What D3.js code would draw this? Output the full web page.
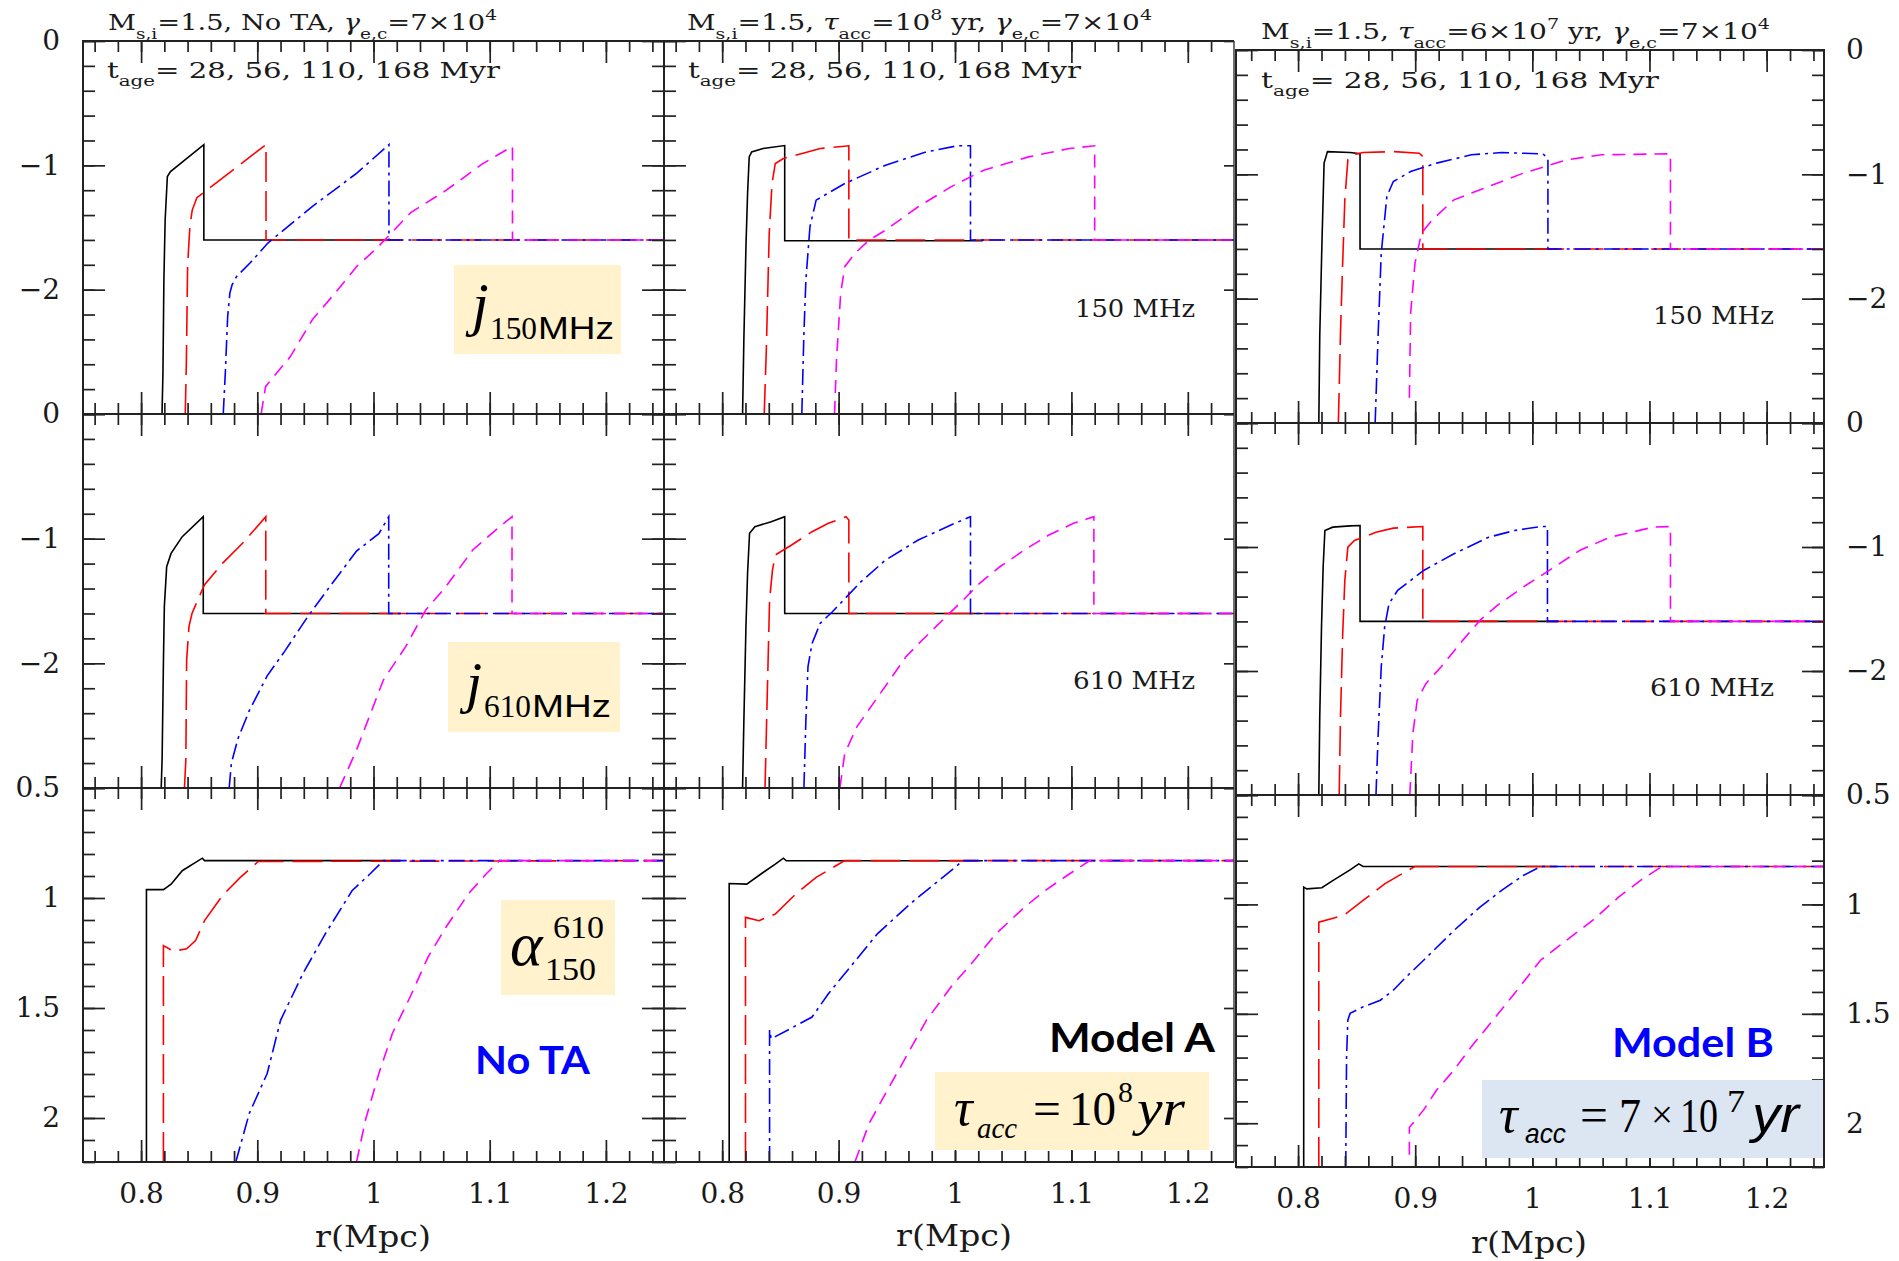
<!DOCTYPE html>
<html>
<head>
<meta charset="utf-8">
<script src="https://cdn.jsdelivr.net/npm/d3@7"></script>
<style>
  body { margin: 0; background: #fff; }
  text { white-space: pre; }
</style>
</head>
<body>
<svg id="chart" width="1899" height="1261"></svg>
<script>
// values: [r (Mpc), value]; curves are t_age = 28, 56, 110, 168 Myr
const rTicks = [0.8, 0.9, 1, 1.1, 1.2];
const jTicks = [0, -1, -2];
const alphaTicks = [0.5, 1, 1.5, 2];
const ages = [28, 56, 110, 168];

// No TA
const noTA_j150 = [
  [[0.818,-3],[0.8188,-2.67],[0.8196,-1.93],[0.8207,-1.44],[0.8226,-1.09],[0.8253,-1.05],[0.854,-0.833],[0.854,-1.6],[1.023,-1.6]],
  [[0.838,-3],[0.839,-2.56],[0.84,-1.81],[0.842,-1.49],[0.844,-1.36],[0.848,-1.26],[0.9075,-0.833],[0.9075,-1.6],[1.25,-1.6]],
  [[0.8707,-3],[0.8726,-2.645],[0.8745,-2.216],[0.8764,-2.028],[0.8783,-1.961],[0.8822,-1.894],[0.8937,-1.786],[0.9091,-1.625],[0.9475,-1.33],[0.9859,-1.061],[1.0133,-0.833],[1.0133,-1.6],[1.25,-1.6]],
  [[0.9033,-3],[0.9071,-2.78],[0.9167,-2.67],[0.9283,-2.54],[0.9475,-2.24],[0.9667,-2.03],[0.9859,-1.81],[1.0013,-1.68],[1.0128,-1.57],[1.032,-1.38],[1.0627,-1.2],[1.0934,-0.99],[1.1196,-0.847],[1.1196,-1.6],[1.25,-1.6]]
];
const noTA_j610 = [
  [[0.8173,-3],[0.8181,-2.76],[0.8192,-2.0],[0.82,-1.545],[0.822,-1.225],[0.8258,-1.118],[0.8354,-0.984],[0.8535,-0.824],[0.8535,-1.6],[1.023,-1.6]],
  [[0.8373,-3],[0.8385,-2.775],[0.8392,-1.973],[0.8412,-1.706],[0.8438,-1.6],[0.8488,-1.49],[0.8546,-1.37],[0.87,-1.198],[0.8873,-1.037],[0.9073,-0.824],[0.9073,-1.6],[1.25,-1.6]],
  [[0.8758,-3],[0.8777,-2.8],[0.8835,-2.6],[0.8931,-2.38],[0.9085,-2.1],[0.9238,-1.9],[0.9431,-1.63],[0.9623,-1.385],[0.9854,-1.1],[1.0046,-0.96],[1.0131,-0.824],[1.0131,-1.6],[1.25,-1.6]],
  [[0.9708,-3],[0.9854,-2.695],[1.0085,-2.134],[1.0277,-1.866],[1.045,-1.572],[1.0623,-1.385],[1.0854,-1.091],[1.1085,-0.904],[1.1192,-0.824],[1.1192,-1.6],[1.25,-1.6]]
];
const noTA_alpha = [
  [[0.8046,2.2],[0.8046,0.962],[0.8192,0.962],[0.8258,0.937],[0.8354,0.876],[0.8469,0.838],[0.8527,0.819],[0.8546,0.83],[1.023,0.83]],
  [[0.8192,2.2],[0.8192,1.216],[0.8277,1.242],[0.8392,1.231],[0.8469,1.193],[0.8546,1.103],[0.87,0.989],[0.8854,0.906],[0.9008,0.834],[1.25,0.83]],
  [[0.8815,2.2],[0.8931,1.979],[0.9085,1.798],[0.92,1.556],[0.9392,1.344],[0.9585,1.163],[0.9815,0.967],[0.9969,0.891],[1.0085,0.83],[1.25,0.83]],
  [[0.9854,2.2],[0.9931,2.009],[1.0046,1.798],[1.0162,1.616],[1.0315,1.45],[1.0469,1.269],[1.0623,1.133],[1.0815,0.982],[1.0969,0.891],[1.1085,0.83],[1.25,0.83]]
];

// Model A, tau_acc = 1e8 yr
const modelA_j150 = [
  [[0.8175,-3],[0.8186,-2.404],[0.8204,-1.655],[0.8218,-1.226],[0.8232,-0.932],[0.8253,-0.892],[0.8351,-0.865],[0.8537,-0.841],[0.8537,-1.606],[1.0239,-1.606]],
  [[0.8361,-3],[0.8379,-2.485],[0.8404,-1.548],[0.8428,-1.146],[0.8456,-0.985],[0.8526,-0.945],[0.8702,-0.9],[0.8842,-0.865],[0.9088,-0.843],[0.9088,-1.6],[1.25,-1.6]],
  [[0.8684,-3],[0.8702,-2.351],[0.8719,-1.922],[0.8754,-1.494],[0.8807,-1.28],[0.9053,-1.146],[0.9404,-0.999],[0.9754,-0.892],[1.0018,-0.843],[1.0133,-0.843],[1.0133,-1.6],[1.25,-1.6]],
  [[0.8965,-3],[0.8982,-2.565],[0.9018,-2.029],[0.9053,-1.815],[0.914,-1.708],[0.9263,-1.601],[0.9404,-1.521],[0.9684,-1.333],[0.9965,-1.173],[1.0246,-1.039],[1.0632,-0.932],[1.0982,-0.865],[1.12,-0.843],[1.12,-1.6],[1.25,-1.6]]
];
const modelA_j610 = [
  [[0.8175,-3],[0.8186,-2.468],[0.8204,-1.706],[0.8218,-1.278],[0.8235,-0.957],[0.8281,-0.904],[0.8421,-0.864],[0.8537,-0.824],[0.8537,-1.6],[1.0239,-1.6]],
  [[0.8368,-3],[0.8386,-2.294],[0.8407,-1.492],[0.8432,-1.251],[0.8456,-1.131],[0.8596,-1.051],[0.8772,-0.944],[0.8912,-0.877],[0.9063,-0.824],[0.9088,-0.85],[0.9088,-1.6],[1.25,-1.6]],
  [[0.8702,-3],[0.8719,-2.455],[0.8737,-2.027],[0.8772,-1.84],[0.8842,-1.679],[0.8947,-1.586],[0.9193,-1.345],[0.9404,-1.171],[0.9684,-1.011],[0.9965,-0.89],[1.0133,-0.824],[1.0133,-1.6],[1.25,-1.6]],
  [[0.9011,-3],[0.9053,-2.722],[0.9158,-2.508],[0.9298,-2.321],[0.9439,-2.134],[0.9579,-1.947],[0.9719,-1.813],[0.9895,-1.652],[1.007,-1.492],[1.0211,-1.358],[1.0386,-1.225],[1.0596,-1.091],[1.0807,-0.971],[1.1018,-0.877],[1.1193,-0.824],[1.1193,-1.6],[1.25,-1.6]]
];
const modelA_alpha = [
  [[0.806,2.2],[0.806,0.934],[0.8211,0.937],[0.8351,0.884],[0.8456,0.846],[0.8526,0.819],[0.8551,0.831],[1.0239,0.831]],
  [[0.82,2.2],[0.82,1.088],[0.8316,1.103],[0.8456,1.073],[0.8632,0.982],[0.8807,0.906],[0.9053,0.83],[1.25,0.83]],
  [[0.8407,2.2],[0.8407,1.6],[0.8421,1.64],[0.8561,1.601],[0.8772,1.541],[0.8912,1.435],[0.9123,1.299],[0.9333,1.163],[0.9614,1.027],[0.9895,0.906],[1.007,0.83],[1.25,0.83]],
  [[0.914,2.2],[0.9263,2.024],[0.9404,1.888],[0.9579,1.722],[0.9754,1.556],[0.9965,1.405],[1.014,1.299],[1.0351,1.163],[1.0596,1.042],[1.0772,0.967],[1.0982,0.891],[1.1158,0.83],[1.25,0.83]]
];

// Model B, tau_acc = 7e7 yr
const modelB_j150 = [
  [[0.8177,-3],[0.8185,-2.303],[0.8203,-1.58],[0.8222,-0.91],[0.8251,-0.817],[0.8444,-0.825],[0.8529,-0.835],[0.8529,-1.6],[1.0218,-1.6]],
  [[0.8344,-3],[0.8362,-2.276],[0.8377,-1.82],[0.8399,-1.205],[0.8425,-0.884],[0.8462,-0.843],[0.8555,-0.825],[0.8813,-0.817],[0.9035,-0.83],[0.9065,-0.857],[0.9065,-1.6],[1.25,-1.6]],
  [[0.8658,-3],[0.8684,-2.276],[0.871,-1.633],[0.8758,-1.178],[0.8813,-1.058],[0.8961,-0.977],[0.9183,-0.91],[0.9479,-0.843],[0.9738,-0.825],[1.0089,-0.835],[1.0133,-0.87],[1.0133,-1.6],[1.25,-1.6]],
  [[0.895,-2.798],[0.8961,-2.115],[0.8998,-1.714],[0.9054,-1.473],[0.9146,-1.365],[0.9331,-1.205],[0.9627,-1.098],[0.9922,-0.991],[1.0292,-0.884],[1.0588,-0.843],[1.1179,-0.835],[1.1179,-1.6],[1.25,-1.6]]
];
const modelB_j610 = [
  [[0.8177,-3],[0.8185,-2.37],[0.82,-1.646],[0.8214,-1.162],[0.8229,-0.867],[0.8296,-0.84],[0.8444,-0.83],[0.8529,-0.827],[0.8529,-1.6],[1.0218,-1.6]],
  [[0.8351,-3],[0.8362,-2.37],[0.8381,-1.7],[0.8399,-1.27],[0.8425,-1.001],[0.8481,-0.948],[0.8665,-0.881],[0.8813,-0.848],[0.9065,-0.835],[0.9065,-1.6],[1.25,-1.6]],
  [[0.8665,-3],[0.8684,-2.505],[0.871,-1.968],[0.8739,-1.646],[0.8776,-1.458],[0.885,-1.35],[0.9072,-1.189],[0.9331,-1.055],[0.9627,-0.921],[0.9848,-0.867],[1.007,-0.835],[1.0129,-0.835],[1.0129,-1.6],[1.25,-1.6]],
  [[0.8954,-3],[0.898,-2.505],[0.9017,-2.236],[0.9091,-2.102],[0.922,-1.968],[0.9405,-1.753],[0.9553,-1.592],[0.9701,-1.471],[0.9922,-1.323],[1.0144,-1.189],[1.0403,-1.028],[1.0662,-0.921],[1.0847,-0.881],[1.1031,-0.84],[1.1179,-0.835],[1.1179,-1.6],[1.25,-1.6]]
];
const modelB_alpha = [
  [[0.8048,2.2],[0.8048,0.921],[0.8074,0.929],[0.8203,0.924],[0.8296,0.891],[0.8444,0.842],[0.8518,0.815],[0.8555,0.827],[1.0218,0.827]],
  [[0.8177,2.2],[0.8177,1.081],[0.8314,1.061],[0.8407,1.043],[0.8555,0.982],[0.8739,0.906],[0.8887,0.86],[0.8998,0.827],[1.25,0.827]],
  [[0.8407,2.2],[0.8414,1.696],[0.8425,1.529],[0.8444,1.498],[0.8555,1.468],[0.8702,1.438],[0.8813,1.392],[0.8924,1.331],[0.9072,1.255],[0.9331,1.119],[0.9553,1.012],[0.9738,0.936],[0.9922,0.868],[1.007,0.827],[1.25,0.827]],
  [[0.895,2.144],[0.895,2.02],[0.9072,1.939],[0.9183,1.848],[0.9331,1.757],[0.9479,1.65],[0.9664,1.529],[0.9848,1.407],[1.007,1.255],[1.0292,1.164],[1.0514,1.073],[1.0736,0.967],[1.0921,0.891],[1.1105,0.827],[1.25,0.827]]
];

const curveStyle = [
  { color: "#000000", dash: null },
  { color: "#ff0000", dash: "30,9" },
  { color: "#0000ff", dash: "16,5,3,5" },
  { color: "#ff00ff", dash: "13,8" }
];

const svg = d3.select("#chart");
const defs = svg.append("defs");
const pgFont = "DejaVu Serif";
const times = "Liberation Serif";
const sans = "Liberation Sans";

// three columns; the middle one is cut a little short of r = 1.25 on the right
const columns = [
  { x0: 83, x1: 664, dom: [0.75, 1.25], cut: null, rows: [41, 414, 788, 1162], labels: "left", title: [373, 1247], panels: [noTA_j150, noTA_j610, noTA_alpha] },
  { x0: 664, x1: 1246, dom: [0.75, 1.25], cut: 1234, rows: [41, 414, 788, 1162], labels: null, title: [954, 1246], panels: [modelA_j150, modelA_j610, modelA_alpha] },
  { x0: 1236, x1: 1824, dom: [0.747, 1.249], cut: null, rows: [50, 423, 795, 1167], labels: "right", title: [1529, 1253], panels: [modelB_j150, modelB_j610, modelB_alpha] }
];

const rMinor = d3.range(38, 63).map(k => k / 50);
const jMinor = d3.range(0, 16).map(k => -k / 5);
const jMajor = [0, -1, -2, -3];
const aMinor = d3.range(5, 23).map(k => k / 10);

function ticks(g, axis, tx, ty, vals, len) {
  g.append("g").attr("transform", `translate(${tx},${ty})`).attr("color", "#222")
    .call(axis.tickValues(vals).tickSize(-len).tickFormat(""))
    .call(a => a.select(".domain").remove())
    .selectAll("line").attr("stroke-width", 1.7);
}

function labelAxis(g) {
  g.call(a => a.select(".domain").remove())
    .attr("font-family", pgFont).attr("font-size", 28).attr("color", "#1a1a1a");
}

columns.forEach((col, ci) => {
  const right = col.cut || col.x1;
  const x = d3.scaleLinear().domain(col.dom).range([col.x0, col.x1]);

  col.panels.forEach((series, ri) => {
    const top = col.rows[ri], bot = col.rows[ri + 1];
    const isAlpha = ri === 2;
    const y = d3.scaleLinear().domain(isAlpha ? [0.5, 2.2] : [0, -3]).range([top, bot]);
    const id = `p${ci}${ri}`;

    defs.append("clipPath").attr("id", id + "o").append("rect")
      .attr("x", col.x0 - 3).attr("y", top - 3)
      .attr("width", (col.cut ? right : right + 3) - (col.x0 - 3)).attr("height", bot - top + 6);
    defs.append("clipPath").attr("id", id + "i").append("rect")
      .attr("x", col.x0).attr("y", top).attr("width", right - col.x0).attr("height", bot - top);

    const g = svg.append("g").attr("clip-path", `url(#${id}o)`);

    const line = d3.line().x(d => x(d[0])).y(d => y(d[1]));
    const lg = g.append("g").attr("clip-path", `url(#${id}i)`);
    series.forEach((pts, si) => {
      lg.append("path").attr("d", line(pts))
        .attr("fill", "none")
        .attr("stroke", curveStyle[si].color)
        .attr("stroke-width", 1.6)
        .attr("stroke-dasharray", curveStyle[si].dash);
    });

    // inward ticks on all four sides
    ticks(g, d3.axisTop(x), 0, top, rMinor, 11);
    ticks(g, d3.axisTop(x), 0, top, rTicks, 22);
    ticks(g, d3.axisBottom(x), 0, bot, rMinor, 11);
    ticks(g, d3.axisBottom(x), 0, bot, rTicks, 22);
    const yMinor = isAlpha ? aMinor : jMinor;
    const yMajor = isAlpha ? alphaTicks : jMajor;
    ticks(g, d3.axisLeft(y), col.x0, 0, yMinor, 12);
    ticks(g, d3.axisLeft(y), col.x0, 0, yMajor, 22);
    ticks(g, d3.axisRight(y), col.x1, 0, yMinor, 12);
    ticks(g, d3.axisRight(y), col.x1, 0, yMajor, 22);

    g.append("rect").attr("x", col.x0).attr("y", top)
      .attr("width", col.x1 - col.x0).attr("height", bot - top)
      .attr("fill", "none").attr("stroke", "#222").attr("stroke-width", 2);

    if (col.cut) {
      svg.append("line").attr("x1", col.cut).attr("x2", col.cut).attr("y1", top).attr("y2", bot)
        .attr("stroke", "#333").attr("stroke-width", 1.4);
    }

    const yVals = isAlpha ? alphaTicks : jTicks;
    if (col.labels === "left") {
      svg.append("g").attr("transform", `translate(${col.x0},0)`)
        .call(d3.axisLeft(y).tickValues(yVals).tickSize(0).tickPadding(23).tickFormat(d3.format("")))
        .call(labelAxis);
    } else if (col.labels === "right") {
      svg.append("g").attr("transform", `translate(${col.x1},0)`)
        .call(d3.axisRight(y).tickValues(yVals).tickSize(0).tickPadding(22).tickFormat(d3.format("")))
        .call(labelAxis);
    }

    if (isAlpha) {
      svg.append("g").attr("transform", `translate(0,${bot})`)
        .call(d3.axisBottom(x).tickValues(rTicks).tickSize(0).tickPadding(21).tickFormat(d3.format("")))
        .call(labelAxis);
    }
  });

  svg.append("text").attr("x", col.title[0]).attr("y", col.title[1])
    .attr("text-anchor", "middle").attr("font-family", pgFont).attr("font-size", 29)
    .attr("fill", "#1a1a1a").attr("textLength", 116).attr("lengthAdjust", "spacingAndGlyphs")
    .text("r(Mpc)");
});

// PGPLOT-style annotation with sub/superscripts
function rich(x, y, parts, size, w) {
  const t = svg.append("text").attr("x", x).attr("y", y)
    .attr("font-family", pgFont).attr("font-size", size).attr("fill", "#1a1a1a");
  let off = 0;
  parts.forEach(p => {
    const mode = p[1];
    const target = mode === "sub" ? size * 0.38 : mode === "sup" ? -size * 0.42 : 0;
    t.append("tspan").attr("dy", target - off)
      .attr("font-size", mode === "sub" || mode === "sup" ? size * 0.68 : size)
      .attr("font-style", mode === "it" ? "italic" : null)
      .text(p[0]);
    off = target;
  });
  t.attr("textLength", w).attr("lengthAdjust", "spacingAndGlyphs");
}

const titles = [
  [["M"], ["s,i", "sub"], ["=1.5, No TA, "], ["γ", "it"], ["e,c", "sub"], ["=7×10"], ["4", "sup"]],
  [["M"], ["s,i", "sub"], ["=1.5, "], ["τ", "it"], ["acc", "sub"], ["=10"], ["8", "sup"], [" yr, "], ["γ", "it"], ["e,c", "sub"], ["=7×10"], ["4", "sup"]],
  [["M"], ["s,i", "sub"], ["=1.5, "], ["τ", "it"], ["acc", "sub"], ["=6×10"], ["7", "sup"], [" yr, "], ["γ", "it"], ["e,c", "sub"], ["=7×10"], ["4", "sup"]]
];
const titlePos = [[108, 30, 389], [687, 30, 465], [1261, 39, 509]];
const agePos = [[107, 78, 393], [688, 78, 393], [1261, 88, 398]];
titles.forEach((parts, i) => rich(titlePos[i][0], titlePos[i][1], parts, 23, titlePos[i][2]));
agePos.forEach(p => rich(p[0], p[1], [["t"], ["age", "sub"], ["= " + ages.join(", ") + " Myr"]], 22, p[2]));

const freqLabels = [["150 MHz", 1075, 317, 120], ["150 MHz", 1653, 324, 121], ["610 MHz", 1073, 689, 122], ["610 MHz", 1650, 696, 124]];
freqLabels.forEach(f => rich(f[1], f[2], [[f[0]]], 25, f[3]));

function put(x, y, str, size, o = {}) {
  const t = svg.append("text").attr("x", x).attr("y", y).text(str)
    .attr("font-family", o.fam || times).attr("font-size", size)
    .attr("fill", o.fill || "#000");
  if (o.it) t.attr("font-style", "italic");
  if (o.bold) t.attr("font-weight", "bold");
  if (o.w) t.attr("textLength", o.w).attr("lengthAdjust", "spacingAndGlyphs");
  return t;
}
function box(x, y, w, h, fill) {
  svg.append("rect").attr("x", x).attr("y", y).attr("width", w).attr("height", h).attr("fill", fill);
}

// quantity boxes
box(454, 265, 167, 89, "#fff2cc");
put(472, 324, "j", 60, { it: true });
put(490, 339, "150", 32, { w: 47 });
put(538, 339, "MHz", 32, { fam: sans, w: 76 });

box(448, 642, 172, 90, "#fff2cc");
put(466, 702, "j", 58, { it: true });
put(484, 717, "610", 32, { w: 47 });
put(532, 717, "MHz", 32, { fam: sans, w: 79 });

box(501, 900, 114, 95, "#fff2cc");
put(510, 965, "α", 62, { it: true });
put(553, 938, "610", 32, { w: 51 });
put(545, 980, "150", 32, { w: 51 });

box(935, 1072, 274, 78, "#fff2cc");
put(954, 1125, "τ", 52, { it: true });
put(977, 1138, "acc", 30, { it: true, w: 40 });
put(1033, 1125, "=", 48, { w: 28 });
put(1069, 1125, "10", 48, { w: 47 });
put(1118, 1102, "8", 30);
put(1137, 1125, "yr", 50, { it: true, w: 48 });

box(1482, 1080, 341, 78, "#dce6f2");
put(1499, 1132, "τ", 52, { it: true });
put(1525, 1143, "acc", 28, { fam: sans, it: true, w: 41 });
put(1580, 1132, "=", 50, { w: 28 });
put(1619, 1132, "7", 49, { w: 22 });
put(1651, 1128, "×", 40, { w: 22 });
put(1680, 1132, "10", 49, { w: 38 });
put(1727, 1112, "7", 32, { w: 18 });
put(1752, 1132, "yr", 52, { fam: sans, it: true, w: 47 });

// model names
put(475, 1074, "No TA", 38, { fam: "Lato", bold: true, fill: "#0000ff", w: 115 });
put(1049, 1052, "Model A", 40, { fam: "Lato", bold: true, fill: "#000", w: 166 });
put(1612, 1057, "Model B", 40, { fam: "Lato", bold: true, fill: "#0000ff", w: 162 });
</script>
</body>
</html>
